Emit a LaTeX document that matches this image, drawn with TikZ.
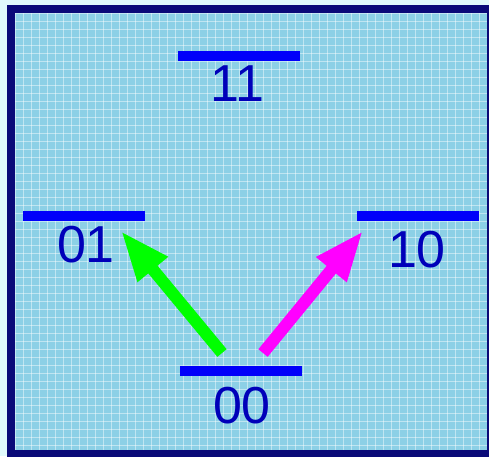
\documentclass[tikz,border=0pt]{standalone}
\usepackage{fontspec}
\setmainfont{Liberation Sans}
\usetikzlibrary{arrows.meta}
\definecolor{bgout}{RGB}{225,250,252}
\definecolor{bgin}{RGB}{140,208,230}
\definecolor{frame}{RGB}{10,10,120}
\definecolor{barblue}{RGB}{0,0,250}
\definecolor{txtblue}{RGB}{0,0,185}
\definecolor{arrgreen}{RGB}{0,255,0}
\definecolor{arrmag}{RGB}{255,0,255}
\tikzset{
  level/.style={fill=barblue, draw=none, minimum width=122pt, minimum height=10pt, inner sep=0pt},
  lab/.style={text=txtblue, font=\fontsize{52}{52}\selectfont, inner sep=0pt},
  trans/.style={line width=12pt, -{Triangle[length=50pt,width=36pt]}},
}
\begin{document}
\begin{tikzpicture}[x=1pt,y=-1pt]
\useasboundingbox (0,0) rectangle (489,456);
\fill[bgout] (0,0) rectangle (489,456);
\begin{scope}
\clip (0,0) rectangle (489,456);
\fill[bgin] (11,9) rectangle (491,454);
\foreach \i in {0,...,60} {
  \draw[white, opacity=0.45, line width=0.8pt] (15+8*\i,13) -- (15+8*\i,452);
  \draw[white, opacity=0.45, line width=0.8pt] (15,13+8*\i) -- (489,13+8*\i);
}
\draw[frame, line width=8pt] (11,9) rectangle (491,454);
\end{scope}
% levels
\node[level] (b11) at (238.5,55.5) {};
\node[level] (b01) at (84,215.5) {};
\node[level] (b10) at (418,215.5) {};
\node[level] (b00) at (241,370.5) {};
% labels
\node[lab] (l11) at (237,83.5) {11};
\node[lab] (l01) at (86,244.5) {01};
\node[lab] (l10) at (417,249.5) {10};
\node[lab] (l00) at (242,406) {00};
% arrows
\coordinate (g0) at (222,353);
\coordinate (g1) at (121,231);
\coordinate (m0) at (263,353);
\coordinate (m1) at (363,231);
\draw[trans, arrgreen] (g0) -- (g1);
\draw[trans, arrmag] (m0) -- (m1);
\end{tikzpicture}
\end{document}
